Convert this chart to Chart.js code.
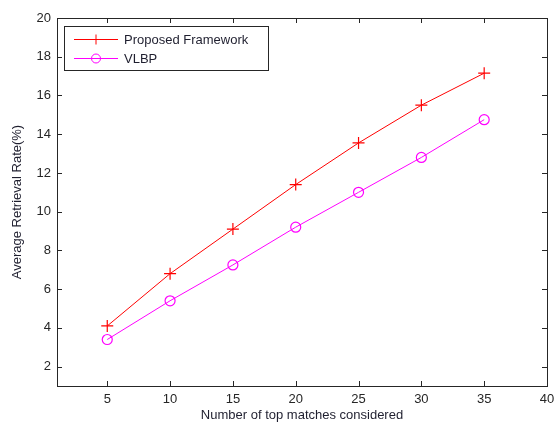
<!DOCTYPE html>
<html>
<head>
<meta charset="utf-8">
<style>
  html, body { margin: 0; padding: 0; background: #fff; }
  #wrap { width: 556px; height: 423px; }
</style>
<script src="https://cdn.jsdelivr.net/npm/chart.js@4.4.0/dist/chart.umd.min.js"></script>
</head>
<body>
<div id="wrap"><canvas id="c" width="556" height="423"></canvas></div>
<script>
var topMatches = [5, 10, 15, 20, 25, 30, 35];
var proposedRate = [4.1, 6.8, 9.1, 11.4, 13.55, 15.5, 17.15];
var vlbpRate = [3.4, 5.4, 7.25, 9.2, 11.0, 12.8, 14.75];
var xTicks = [5, 10, 15, 20, 25, 30, 35, 40];
var yTicks = [2, 4, 6, 8, 10, 12, 14, 16, 18, 20];

var FONT = '"Liberation Sans", Arial, sans-serif';
var AXIS = '#262626';

function toPoints(xs, ys) {
  return xs.map(function(x, i) { return { x: x, y: ys[i] }; });
}

// matlab style box with inward ticks on all four sides
var boxTicks = {
  id: 'boxTicks',
  afterDraw: function(chart) {
    var ctx = chart.ctx, a = chart.chartArea;
    var xs = chart.scales.x, ys = chart.scales.y;
    ctx.save();
    ctx.strokeStyle = AXIS;
    ctx.lineWidth = 1;
    ctx.strokeRect(Math.round(a.left) + 0.5, Math.round(a.top) + 0.5,
      Math.round(a.right - a.left), Math.round(a.bottom - a.top));
    ctx.beginPath();
    xTicks.forEach(function(v) {
      var px = Math.round(xs.getPixelForValue(v)) + 0.5;
      ctx.moveTo(px, a.bottom); ctx.lineTo(px, a.bottom - 5);
      ctx.moveTo(px, a.top); ctx.lineTo(px, a.top + 5);
    });
    yTicks.forEach(function(v) {
      var py = Math.round(ys.getPixelForValue(v)) + 0.5;
      ctx.moveTo(a.left, py); ctx.lineTo(a.left + 5, py);
      ctx.moveTo(a.right, py); ctx.lineTo(a.right - 5, py);
    });
    ctx.stroke();
    ctx.restore();
  }
};

var boxLegend = {
  id: 'boxLegend',
  afterDraw: function(chart) {
    var ctx = chart.ctx, a = chart.chartArea;
    var left = a.left + 7, top = a.top + 8, w = 204, h = 44;
    ctx.save();
    ctx.fillStyle = '#fff';
    ctx.fillRect(left, top, w, h);
    ctx.strokeStyle = AXIS;
    ctx.lineWidth = 1;
    ctx.strokeRect(left + 0.5, top + 0.5, w, h);
    ctx.font = '13px ' + FONT;
    ctx.textBaseline = 'middle';
    chart.data.datasets.forEach(function(ds, i) {
      var y = top + 13.5 + i * 19;
      var x0 = left + 10, x1 = left + 54, xm = (x0 + x1) / 2;
      ctx.strokeStyle = ds.borderColor;
      ctx.beginPath(); ctx.moveTo(x0, y); ctx.lineTo(x1, y); ctx.stroke();
      ctx.beginPath();
      if (ds.pointStyle === 'cross') {
        ctx.moveTo(xm - 5, y); ctx.lineTo(xm + 5, y);
        ctx.moveTo(xm, y - 5); ctx.lineTo(xm, y + 5);
      } else {
        ctx.arc(xm, y, 4.5, 0, Math.PI * 2);
      }
      ctx.stroke();
      ctx.fillStyle = '#1f1f2f';
      ctx.fillText(ds.label, x1 + 6, y + 1);
    });
    ctx.restore();
  }
};

new Chart(document.getElementById('c'), {
  type: 'line',
  data: {
    datasets: [
      {
        label: 'Proposed Framework',
        data: toPoints(topMatches, proposedRate),
        borderColor: '#ff0000',
        backgroundColor: 'transparent',
        borderWidth: 1,
        pointStyle: 'cross',
        pointRadius: 6,
        pointBorderWidth: 1.2,
        pointBorderColor: '#ff0000',
        tension: 0
      },
      {
        label: 'VLBP',
        data: toPoints(topMatches, vlbpRate),
        borderColor: '#ff00ff',
        backgroundColor: 'transparent',
        borderWidth: 1,
        pointStyle: 'circle',
        pointRadius: 5,
        pointBorderWidth: 1.2,
        pointBorderColor: '#ff00ff',
        pointBackgroundColor: 'transparent',
        tension: 0
      }
    ]
  },
  options: {
    responsive: false,
    animation: false,
    layout: { padding: { top: 18, right: 9, left: 0, bottom: 0 } },
    plugins: { legend: { display: false }, tooltip: { enabled: false } },
    scales: {
      x: {
        type: 'linear',
        min: 1, max: 40,
        afterBuildTicks: function(s) { s.ticks = xTicks.map(function(v) { return { value: v }; }); },
        afterFit: function(s) { s.height = 37; s.paddingLeft = 0; s.paddingRight = 0; },
        grid: { display: false, drawTicks: false },
        border: { display: false },
        ticks: { color: AXIS, font: { family: FONT, size: 13 }, padding: 6, maxRotation: 0 },
        title: {
          display: true, text: 'Number of top matches considered',
          color: '#1f1f2f', font: { family: FONT, size: 13 }, padding: { top: 0, bottom: 0 }
        }
      },
      y: {
        min: 1, max: 20,
        afterBuildTicks: function(s) { s.ticks = yTicks.map(function(v) { return { value: v }; }); },
        afterFit: function(s) { s.width = 57; },
        grid: { display: false, drawTicks: false },
        border: { display: false },
        ticks: { color: AXIS, font: { family: FONT, size: 13 }, padding: 6 },
        title: {
          display: true, text: 'Average Retrieval Rate(%)',
          color: '#1f1f2f', font: { family: FONT, size: 13 }, padding: { top: 10, bottom: 0 }
        }
      }
    }
  },
  plugins: [boxTicks, boxLegend]
});
</script>
</body>
</html>
